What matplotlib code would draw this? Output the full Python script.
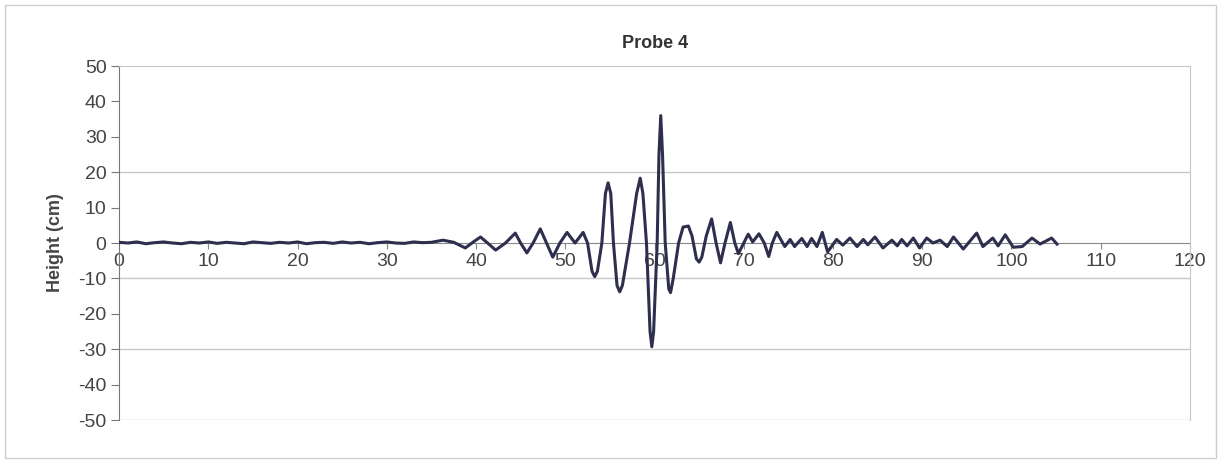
import matplotlib.pyplot as plt
from matplotlib.patches import Rectangle

# time (s) and wave height (cm)
t = [0, 1, 2, 3, 4, 5, 6, 7, 8, 9, 10, 11, 12, 13, 14, 15, 16, 17, 18, 19,
     20, 21, 22, 23, 24, 25, 26, 27, 28, 29, 30, 31, 32, 33, 34, 35, 36.3,
     37.5, 38.8, 39.7, 40.5, 41.3, 42.2, 43.3, 44.4, 45.0, 45.7, 46.4,
     47.2, 47.9, 48.6, 49.4, 50.2, 51.1, 52.0, 52.5, 53.0, 53.3, 53.6,
     54.1, 54.5, 54.8, 55.1, 55.4, 55.8, 56.1, 56.4, 57.2, 58.0, 58.4,
     58.7, 59.1, 59.5, 59.7, 59.9, 60.3, 60.5, 60.7, 60.9, 61.2, 61.6,
     61.8, 62.1, 62.7, 63.2, 63.8, 64.2, 64.7, 65.0, 65.3, 65.8, 66.4,
     66.9, 67.4, 67.9, 68.5, 69.0, 69.4, 70.0, 70.5, 71.0, 71.7, 72.3,
     72.8, 73.2, 73.7, 74.6, 75.2, 75.7, 76.5, 77.1, 77.6, 78.2, 78.8,
     79.4, 80.4, 81.1, 81.9, 82.7, 83.4, 83.9, 84.7, 85.6, 86.6, 87.2,
     87.7, 88.3, 89.0, 89.7, 90.5, 91.2, 92.0, 92.8, 93.5, 94.6, 96.1,
     96.8, 97.9, 98.5, 99.3, 100.2, 101.2, 102.3, 103.2, 104.5, 105.1]
h = [0.2, 0.0, 0.3, -0.2, 0.1, 0.3, 0.0, -0.2, 0.2, 0.0, 0.3, -0.1, 0.2,
     0.0, -0.2, 0.3, 0.1, -0.1, 0.2, 0.0, 0.3, -0.2, 0.1, 0.2, -0.1, 0.3,
     0.0, 0.2, -0.2, 0.1, 0.3, 0.0, -0.1, 0.3, 0.1, 0.2, 0.8,
     0.2, -1.4, 0.3, 1.7, 0.0, -2.0, 0.0, 2.8, 0.0, -2.8, 0.0,
     4.0, 0.0, -4.0, 0.0, 3.0, 0.0, 3.0, 0.0, -8.0, -9.5, -8.0,
     0.0, 14.0, 17.0, 14.0, 0.0, -12.0, -13.8, -12.0, 0.0, 14.0, 18.3,
     14.0, 0.0, -25.0, -29.3, -25.0, 0.0, 25.0, 36.0, 25.0, 0.0, -13.0,
     -14.0, -10.0, 0.0, 4.5, 4.8, 2.0, -4.5, -5.4, -4.0, 2.0, 6.8,
     0.0, -5.6, 0.0, 5.8, 0.0, -3.0, 0.0, 2.5, 0.3, 2.6, 0.0,
     -3.8, 0.0, 3.0, -1.0, 1.0, -1.0, 1.3, -1.0, 1.3, -1.0, 3.0,
     -2.5, 1.0, -0.6, 1.4, -1.0, 1.0, -0.5, 1.7, -1.4, 0.8, -0.8,
     1.0, -0.8, 1.4, -1.4, 1.4, 0.0, 0.8, -1.0, 1.7, -1.7, 2.8,
     -1.0, 1.4, -0.8, 2.3, -1.2, -1.0, 1.4, -0.3, 1.4, -0.3]

xticks = list(range(0, 121, 10))
yticks = list(range(-50, 51, 10))
grid_levels = [20, -10, -30]

plt.rcParams['font.family'] = ['Liberation Sans', 'DejaVu Sans']
plt.rcParams['axes.unicode_minus'] = False

fig = plt.figure(figsize=(12.22, 4.62), dpi=100)
ax = fig.add_axes([0.0974, 0.0909, 0.8764, 0.7662])

for g in grid_levels:
    ax.axhline(g, color='#c8c8c8', lw=1.0, zorder=0)

ax.plot(t, h, color='#2e2e4e', lw=2.2, zorder=3, solid_joinstyle='round')

ax.set_xlim(0, 120)
ax.set_ylim(-50, 50)
ax.set_xticks(xticks)
ax.set_yticks(yticks)

ax.spines['bottom'].set_position(('data', 0))
ax.spines['bottom'].set_color('#888888')
ax.spines['left'].set_color('#777777')
ax.spines['top'].set_color('#c8c8c8')
ax.spines['right'].set_color('#c8c8c8')
ax.spines['bottom'].set_zorder(2)

ax.tick_params(axis='x', direction='out', length=4, color='#888888',
               labelsize=14, labelcolor='#444444', pad=3)
ax.tick_params(axis='y', direction='out', length=6, color='#777777',
               labelsize=14, labelcolor='#444444', pad=3)

# bottom border of plot area
ax.axhline(-50, color='#c8c8c8', lw=1.0, zorder=0)

ax.set_ylabel('Height (cm)', fontsize=13, fontweight='bold', color='#444444',
              labelpad=10)
fig.text(0.536, 0.905, 'Probe 4', ha='center', va='center', fontsize=13,
         fontweight='bold', color='#333333')

fig.patches.append(Rectangle((0.004, 0.009), 0.991, 0.98,
                             transform=fig.transFigure, fill=False,
                             edgecolor='#cccccc', lw=1.0))

fig.savefig('out.png', dpi=100)
